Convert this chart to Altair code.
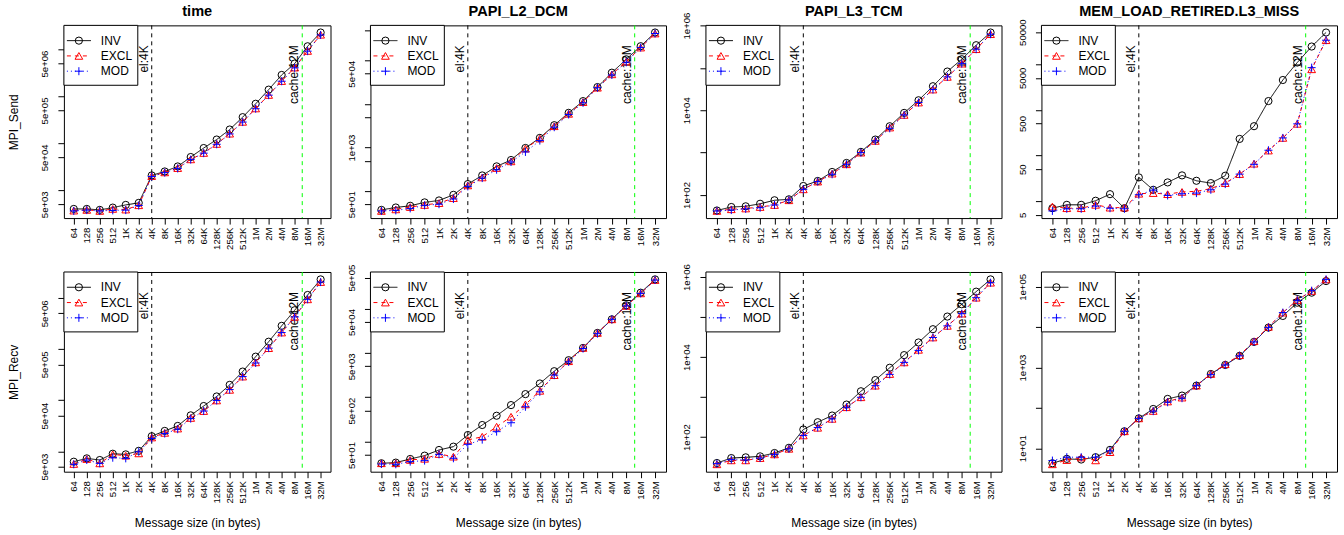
import json
import math
import altair as alt
import pandas as pd

FONT = "Liberation Sans"

sizes = [64, 128, 256, 512, 1024, 2048, 4096, 8192, 16384, 32768, 65536, 131072,
         262144, 524288, 1048576, 2097152, 4194304, 8388608, 16777216, 33554432]
size_labels = ["64", "128", "256", "512", "1K", "2K", "4K", "8K", "16K", "32K", "64K",
               "128K", "256K", "512K", "1M", "2M", "4M", "8M", "16M", "32M"]
series_names = ["INV", "EXCL", "MOD"]
series_colors = ["black", "red", "blue"]
series_dashes = [[1, 0], [4, 4], [1, 3]]
series_shapes = ["circle", "triangle-up", "M-1,0L1,0M0,-1L0,1"]
series_point_sizes = [52, 60, 64]

marker_sizes = [4096, 12582912]
marker_labels = ["el:4K", "cache:12M"]
marker_colors = ["black", "#00ff00"]

col_titles = ["time", "PAPI_L2_DCM", "PAPI_L3_TCM", "MEM_LOAD_RETIRED.L3_MISS"]
row_titles = ["MPI_Send", "MPI_Recv"]
x_title = "Message size (in bytes)"

# ---- MPI_Send ----
send_time_inv = [3970, 3970, 3790, 4240, 4840, 5350, 20600, 25000, 32000, 50800, 79000, 120000,
                 196000, 360000, 695000, 1390000, 2860000, 5000000, 11700000, 23000000]
send_time_excl = [3660, 3790, 3600, 3970, 3850, 4760, 19900, 23900, 29500, 45300, 62000, 96600,
                  160000, 286000, 552000, 1070000, 2120000, 4100000, 9300000, 20600000]
send_time_mod = [3600, 3750, 3600, 3700, 3750, 4700, 19500, 23600, 29000, 44800, 61500, 95000,
                 158000, 283000, 545000, 1060000, 2100000, 4050000, 9200000, 20400000]

send_l2_inv = [37, 42, 46, 55, 61, 82, 145, 229, 370, 518, 980, 1670,
               3270, 6290, 11700, 24600, 52700, 107000, 214000, 442000]
send_l2_excl = [35, 38, 43, 48, 53, 69, 135, 206, 339, 483, 947, 1610,
                3100, 5970, 11100, 23800, 48300, 94700, 199000, 419000]
send_l2_mod = [35, 36, 40, 47, 50, 66, 128, 199, 310, 466, 794, 1450,
               2940, 5760, 10700, 23800, 46600, 91300, 199000, 419000]

send_l3_inv = [43, 52, 54, 62, 75, 79, 163, 214, 349, 570, 1040, 2030,
               4190, 8650, 17200, 36900, 81900, 160000, 343000, 684000]
send_l3_excl = [42, 46, 48, 52, 58, 75, 136, 207, 319, 530, 1000, 1890,
                3900, 7760, 15200, 30800, 61300, 126000, 276000, 624000]
send_l3_mod = [42, 44, 47, 50, 58, 76, 136, 207, 308, 530, 1000, 1890,
               3750, 7760, 15200, 30800, 61300, 126000, 276000, 624000]

send_mem_inv = [7.0, 8.3, 8.3, 10.2, 14.2, 7.0, 33.1, 17.7, 25.7, 36.6, 27.9, 24.8,
                36, 230, 437, 1550, 4480, 10800, 24200, 49100]
send_mem_excl = [7.6, 7.0, 7.0, 8.3, 7.2, 7.2, 14.5, 15, 14.2, 15.9, 16.4, 18.8,
                 24.8, 39.1, 66, 128, 242, 492, 7690, 33300]
send_mem_mod = [6.1, 6.8, 6.8, 7.8, 7.0, 6.8, 13.8, 17.4, 13.3, 14.5, 15, 17.7,
                23.6, 39, 64, 130, 242, 492, 8350, 33300]

# ---- MPI_Recv ----
recv_time_inv = [6250, 7260, 6740, 8950, 8690, 10200, 19700, 25000, 31300, 50400, 76700, 118000,
                 199000, 362000, 709000, 1390000, 2840000, 5730000, 11400000, 23000000]
recv_time_excl = [5640, 7050, 5800, 8690, 8180, 9090, 18600, 22900, 27800, 44800, 61200, 98600,
                  159000, 289000, 548000, 1040000, 2100000, 4250000, 9370000, 20400000]
recv_time_mod = [5560, 6740, 5800, 7480, 7260, 9780, 17800, 22200, 27000, 43500, 61200, 98600,
                 161000, 289000, 533000, 1040000, 2100000, 4250000, 9370000, 20400000]

recv_l2_inv = [32.5, 33.6, 40.6, 48.3, 64.8, 77, 141, 237, 384, 667, 1180, 2050,
               3880, 6870, 13000, 28300, 57400, 119000, 229000, 457000]
recv_l2_excl = [32.5, 32.5, 38.6, 41, 52.6, 45.8, 109, 129, 217, 364, 690, 1400,
                3160, 6520, 13000, 28300, 57400, 115000, 221000, 442000]
recv_l2_mod = [31.3, 30.8, 35.4, 37.3, 51.7, 42.1, 86.8, 111, 168, 267, 611, 1330,
               3160, 6300, 12600, 27300, 57400, 115000, 221000, 442000]

recv_l3_inv = [22.5, 29.9, 31.2, 33, 40, 54, 155, 236, 346, 650, 1400, 2670,
               5420, 11200, 23200, 49800, 103000, 209000, 432000, 875000]
recv_l3_excl = [20.9, 26.2, 26.2, 29.9, 37, 51, 110, 171, 286, 558, 990, 1930,
                3770, 7370, 15200, 30900, 60300, 122000, 305000, 723000]
recv_l3_mod = [21.7, 27.3, 26.8, 29.9, 37, 51, 110, 174, 286, 558, 990, 1930,
               3700, 7370, 14700, 30900, 60300, 122000, 305000, 723000]

recv_mem_inv = [4.25, 5.45, 5.25, 6.0, 9.1, 26.3, 55, 94, 167, 202, 356, 692,
                1160, 1950, 4320, 9770, 19000, 40500, 71700, 139000]
recv_mem_excl = [4.0, 5.1, 5.9, 5.0, 8.0, 26.3, 55, 84, 144, 180, 356, 692,
                 1210, 2020, 4490, 10200, 23000, 47200, 78900, 153000]
recv_mem_mod = [4.95, 6.0, 6.0, 6.0, 8.6, 26.3, 55, 83, 138, 174, 356, 666,
                1160, 1950, 4320, 9770, 23000, 46300, 80400, 153000]

# ---- y axis ticks and labels per panel ----
ticks_time = [5e3, 1e4, 5e4, 1e5, 5e5, 1e6, 5e6, 1e7]
labels_time = ["5e+03", "", "5e+04", "", "5e+05", "", "5e+06", ""]
ticks_l2 = [5e1, 1e2, 5e2, 1e3, 5e3, 1e4, 5e4, 1e5, 5e5]
labels_l2_send = ["5e+01", "", "", "1e+03", "", "", "5e+04", "", ""]
labels_l2_recv = ["5e+01", "", "5e+02", "", "5e+03", "", "5e+04", "", "5e+05"]
ticks_l3 = [1e2, 1e3, 1e4, 1e5, 1e6]
labels_l3 = ["1e+02", "", "1e+04", "", "1e+06"]
ticks_mem_send = [5, 10, 50, 100, 500, 1000, 5000, 10000, 50000]
labels_mem_send = ["5", "", "50", "", "500", "", "5000", "", "50000"]
ticks_mem_recv = [1e1, 1e2, 1e3, 1e4, 1e5]
labels_mem_recv = ["1e+01", "", "1e+03", "", "1e+05"]

panels = [
    (0, 0, send_time_inv, send_time_excl, send_time_mod, ticks_time, labels_time),
    (0, 1, send_l2_inv, send_l2_excl, send_l2_mod, ticks_l2, labels_l2_send),
    (0, 2, send_l3_inv, send_l3_excl, send_l3_mod, ticks_l3, labels_l3),
    (0, 3, send_mem_inv, send_mem_excl, send_mem_mod, ticks_mem_send, labels_mem_send),
    (1, 0, recv_time_inv, recv_time_excl, recv_time_mod, ticks_time, labels_time),
    (1, 1, recv_l2_inv, recv_l2_excl, recv_l2_mod, ticks_l2, labels_l2_recv),
    (1, 2, recv_l3_inv, recv_l3_excl, recv_l3_mod, ticks_l3, labels_l3),
    (1, 3, recv_mem_inv, recv_mem_excl, recv_mem_mod, ticks_mem_recv, labels_mem_recv),
]

ROW_H = [193, 200]
COL_W = [267, 296, 296, 296]
ONE = alt.Data(values=[{"k": 0}])

x_expr = f"{json.dumps(size_labels)}[indexof({json.dumps(sizes)}, datum.value)]"
lx0, lx1 = math.log2(sizes[0]), math.log2(sizes[-1])
x_domain = [2 ** (lx0 - 0.04 * (lx1 - lx0)), 2 ** (lx1 + 0.04 * (lx1 - lx0))]


def make_panel(row, col, inv, excl, mod, yticks, ylabels):
    w, h = COL_W[col], ROW_H[row]
    rows = []
    for name, vals in zip(series_names, [inv, excl, mod]):
        for s, v in zip(sizes, vals):
            rows.append({"size": s, "value": v, "series": name})
    df = pd.DataFrame(rows)
    allv = inv + excl + mod
    lo, hi = math.log10(min(allv)), math.log10(max(allv))
    r = hi - lo
    y_domain = [10 ** (lo - 0.04 * r), 10 ** (hi + 0.04 * r)]
    y_expr = f"{json.dumps(ylabels)}[indexof({json.dumps(yticks)}, datum.value)]"

    X = alt.X("size:Q",
              scale=alt.Scale(type="log", base=2, domain=x_domain, nice=False, zero=False),
              axis=alt.Axis(values=sizes, labelExpr=x_expr, labelAngle=270, labelAlign="right",
                            labelBaseline="middle", labelPadding=3, labelFlush=False,
                            labelOverlap=False, labelBound=False,
                            title=x_title if row == 1 else None,
                            titleY=51, titleBaseline="middle", titleAlign="center"))
    Y = alt.Y("value:Q",
              scale=alt.Scale(type="log", domain=y_domain, nice=False, zero=False),
              axis=alt.Axis(values=yticks, labelExpr=y_expr, labelAngle=270, labelAlign="center",
                            labelBaseline="bottom", labelPadding=8, labelFlush=False,
                            labelOverlap=False, labelBound=False,
                            title=row_titles[row] if col == 0 else None,
                            titleX=-50.5, titleY=h / 2, titleAngle=270,
                            titleAlign="center", titleBaseline="middle"))

    layers = []
    mk = pd.DataFrame({"size": marker_sizes, "label": marker_labels, "color": marker_colors})
    layers.append(alt.Chart(mk).mark_rule(strokeDash=[4, 4], strokeWidth=1).encode(
        x=X, color=alt.Color("color:N", scale=None)))
    layers.append(alt.Chart(mk).mark_text(angle=270, align="right", baseline="alphabetic",
                                          dy=-4, fontSize=12, font=FONT, color="black").encode(
        x=X, y=alt.value(20), text="label:N"))

    for i, name in enumerate(series_names):
        base = alt.Chart(df[df.series == name]).encode(x=X, y=Y)
        layers.append(base.mark_line(color=series_colors[i], strokeWidth=1,
                                     strokeDash=series_dashes[i]))
        layers.append(base.mark_point(shape=series_shapes[i], color=series_colors[i], filled=False,
                                      size=series_point_sizes[i], strokeWidth=1, opacity=1))

    # legend box (inside top-left corner of the plot)
    layers.append(alt.Chart(ONE).mark_rect(fill="white", stroke="black", strokeWidth=1).encode(
        x=alt.value(0), x2=alt.value(74), y=alt.value(0), y2=alt.value(60)))
    for i, name in enumerate(series_names):
        yy = 15.3 + 15.3 * i
        layers.append(alt.Chart(ONE).mark_rule(color=series_colors[i], strokeWidth=1,
                                               strokeDash=series_dashes[i]).encode(
            x=alt.value(3), x2=alt.value(27), y=alt.value(yy)))
        layers.append(alt.Chart(ONE).mark_point(shape=series_shapes[i], color=series_colors[i],
                                                filled=False, size=series_point_sizes[i],
                                                strokeWidth=1, opacity=1).encode(
            x=alt.value(15), y=alt.value(yy)))
        layers.append(alt.Chart(ONE).mark_text(align="left", baseline="middle", fontSize=12,
                                               font=FONT, color="black").encode(
            x=alt.value(37), y=alt.value(yy), text=alt.value(name)))

    # panel title as a text mark centred over the plot area
    if row == 0:
        layers.append(alt.Chart(ONE).mark_text(align="center", baseline="alphabetic",
                                               fontSize=14.6, fontWeight="bold", font=FONT,
                                               color="black").encode(
            x=alt.value(w / 2), y=alt.value(-9), text=alt.value(col_titles[col])))

    # invisible rects that pin the outer page bounds
    if row == 0 and col == 0:
        layers.append(alt.Chart(ONE).mark_rect(opacity=0).encode(
            x=alt.value(-63), x2=alt.value(0), y=alt.value(-24), y2=alt.value(0)))
    if row == 1 and col == 3:
        layers.append(alt.Chart(ONE).mark_rect(opacity=0).encode(
            x=alt.value(w), x2=alt.value(w + 6), y=alt.value(h), y2=alt.value(h + 64)))

    return alt.layer(*layers).properties(width=w, height=h)


charts = [make_panel(*p) for p in panels]
chart = alt.concat(*charts, columns=4, spacing={"row": 54, "column": 40}, bounds="flush").properties(
    padding=0, background="white"
).configure(font=FONT).configure_view(stroke="black", strokeWidth=1).configure_axis(
    domain=False, grid=False, tickColor="black", tickSize=6, tickWidth=1,
    labelColor="black", labelFont=FONT, labelFontSize=9.6,
    titleColor="black", titleFont=FONT, titleFontSize=12, titleFontWeight="normal"
)

chart.save("out.html", embed_options={"renderer": "svg", "actions": False})
